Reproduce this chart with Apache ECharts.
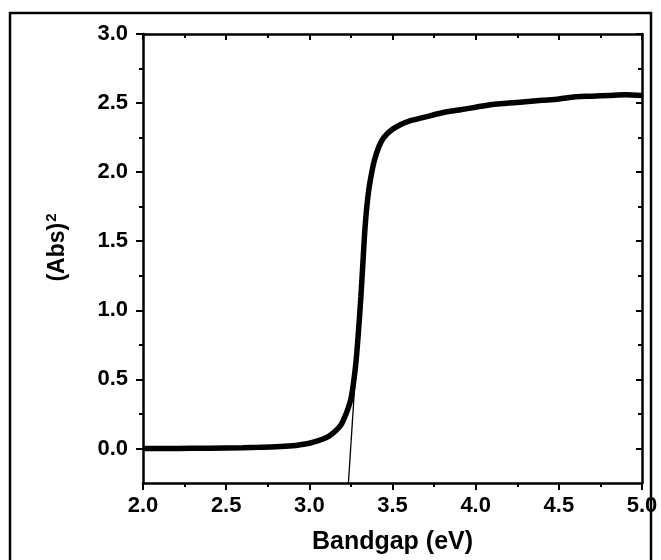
<!DOCTYPE html>
<html>
<head>
<meta charset="utf-8">
<script src="https://cdn.jsdelivr.net/npm/echarts@6/dist/echarts.min.js"></script>
<style>
  html, body { margin: 0; padding: 0; background: #fff; }
  #chart { width: 661px; height: 560px; }
</style>
</head>
<body>
<div id="chart"></div>
<script>
// Data
var energy = [2.0, 2.2, 2.4, 2.6, 2.7, 2.8, 2.9, 2.95, 3.0, 3.05, 3.1, 3.13, 3.16, 3.19, 3.21, 3.23, 3.25, 3.265, 3.28, 3.295, 3.31, 3.32, 3.335, 3.35, 3.365, 3.39, 3.42, 3.45, 3.5, 3.55, 3.6, 3.7, 3.8, 3.9, 4.0, 4.1, 4.2, 4.3, 4.4, 4.5, 4.6, 4.7, 4.8, 4.9, 5.0];
var absSq = [0.0, 0.0, 0.002, 0.005, 0.008, 0.012, 0.02, 0.028, 0.038, 0.055, 0.078, 0.1, 0.13, 0.17, 0.22, 0.28, 0.36, 0.47, 0.62, 0.84, 1.1, 1.3, 1.6, 1.8, 1.93, 2.08, 2.19, 2.255, 2.31, 2.345, 2.37, 2.4, 2.43, 2.45, 2.47, 2.49, 2.5, 2.51, 2.52, 2.53, 2.545, 2.55, 2.555, 2.56, 2.555];
// Tangent (band gap extrapolation) line
var fitX = [3.235, 3.285];
var fitY = [-0.25, 0.68];
// Ticks
var xMajor = [2.0, 2.5, 3.0, 3.5, 4.0, 4.5, 5.0];
var xMinor = [2.25, 2.75, 3.25, 3.75, 4.25, 4.75];
var yMajor = [0.0, 0.5, 1.0, 1.5, 2.0, 2.5, 3.0];
var yMinor = [0.25, 0.75, 1.25, 1.75, 2.25, 2.75];

var font = 'Liberation Sans, Arial, sans-serif';

function pairs(xs, ys) {
    var out = [];
    for (var i = 0; i < xs.length; i++) out.push([xs[i], ys[i]]);
    return out;
}

// Build one axis; several are stacked to get major/minor ticks on all four sides
function axis(pos, min, max, ticks, len, inside, showLine, labels) {
    return {
        type: 'value',
        position: pos,
        min: min,
        max: max,
        axisLine: { show: showLine, onZero: false, lineStyle: { color: '#000', width: 2.5 } },
        axisTick: { show: true, customValues: ticks, length: len, inside: inside, lineStyle: { color: '#000', width: 2 } },
        axisLabel: labels ? {
            show: true, customValues: ticks, margin: 12,
            formatter: function (v) { return v.toFixed(1); },
            color: '#000', fontFamily: font, fontWeight: 'bold', fontSize: 22
        } : { show: false },
        splitLine: { show: false }
    };
}

var chart = echarts.init(document.getElementById('chart'));

var xb = axis('bottom', 2, 5, xMajor, 7, false, true, true);
xb.name = 'Bandgap (eV)';
xb.nameLocation = 'middle';
xb.nameGap = 47;
xb.nameTextStyle = { color: '#000', fontFamily: font, fontWeight: 'bold', fontSize: 25 };

var yl = axis('left', -0.25, 3, yMajor, 7, false, true, true);
yl.axisLabel.margin = 15;
yl.name = '(Abs){sup|2}';
yl.nameLocation = 'middle';
yl.nameRotate = 90;
yl.nameGap = 72;
yl.nameTextStyle = {
    color: '#000', fontFamily: font, fontWeight: 'bold', fontSize: 23, padding: [0, 0, 0, 22],
    rich: { sup: { fontFamily: font, fontWeight: 'bold', fontSize: 15, verticalAlign: 'top', padding: [0, 0, 12, 1] } }
};

chart.setOption({
    animation: false,
    backgroundColor: '#fff',
    grid: { left: 143, right: 19, top: 34, bottom: 77 },
    graphic: [{
        type: 'rect',
        shape: { x: 10, y: 13, width: 641, height: 600 },
        style: { fill: 'none', stroke: '#000', lineWidth: 2.5 },
        silent: true
    }],
    xAxis: [
        xb,
        axis('bottom', 2, 5, xMinor, 4, false, false, false),
        axis('top', 2, 5, xMajor, 6, true, true, false),
        axis('top', 2, 5, xMinor, 4, true, false, false)
    ],
    yAxis: [
        yl,
        axis('left', -0.25, 3, yMinor, 4, false, false, false),
        axis('right', -0.25, 3, yMajor, 6, true, true, false),
        axis('right', -0.25, 3, yMinor, 4, true, false, false)
    ],
    series: [{
        name: 'fit',
        type: 'line',
        data: pairs(fitX, fitY),
        showSymbol: false,
        lineStyle: { color: '#000', width: 1.3 },
        z: 2
    }, {
        name: 'abs',
        type: 'line',
        data: pairs(energy, absSq),
        smooth: 0.3,
        showSymbol: false,
        lineStyle: { color: '#000', width: 5.5 },
        z: 3
    }]
});
</script>
</body>
</html>
